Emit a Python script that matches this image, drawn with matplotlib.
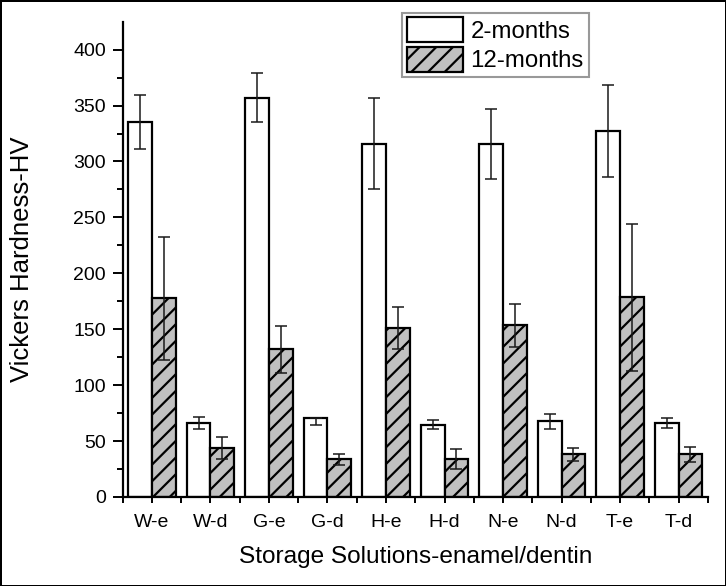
import matplotlib
matplotlib.use("Agg")
import matplotlib.pyplot as plt
import numpy as np

categories = ["W-e", "W-d", "G-e", "G-d", "H-e", "H-d", "N-e", "N-d", "T-e", "T-d"]
series_names = ["2-months", "12-months"]
two_months = [335, 66.5, 357, 70.5, 316, 64.5, 315.5, 67.5, 327.5, 66]
two_months_err_low = [24, 6, 22, 6, 41, 4, 31, 7, 41, 4.5]
two_months_err_high = [24, 5, 22, 0, 41, 4, 31, 7, 41, 4.5]
twelve_months = [177.5, 44, 132, 33.5, 151, 34, 153.5, 38, 178.5, 38]
twelve_months_err = [55, 10, 21, 5, 19, 9, 19, 6, 66, 7]
yticks = [0, 50, 100, 150, 200, 250, 300, 350, 400]

plt.rcParams['font.family'] = ['Liberation Sans', 'DejaVu Sans']
plt.rcParams['hatch.linewidth'] = 1.6

fig = plt.figure(figsize=(7.26, 5.86), dpi=100, edgecolor='black', linewidth=2)
ax = fig.add_axes([0.169, 0.152, 0.806, 0.811])

x = np.arange(1, len(categories) + 1)
w = 0.405

b1 = ax.bar(x - w / 2, two_months, width=w, color='white', edgecolor='black',
            linewidth=1.6, label=series_names[0], zorder=2)
b2 = ax.bar(x + w / 2, twelve_months, width=w, color='#c0c0c0', edgecolor='black',
            linewidth=1.6, hatch='//', label=series_names[1], zorder=2)

ax.errorbar(x - w / 2, two_months, yerr=[two_months_err_low, two_months_err_high],
            fmt='none', ecolor='#1a1a1a', elinewidth=1.1, capsize=4.5, capthick=1.1, zorder=3)
ax.errorbar(x + w / 2, twelve_months, yerr=twelve_months_err,
            fmt='none', ecolor='#1a1a1a', elinewidth=1.1, capsize=4.5, capthick=1.1, zorder=3)

ax.set_xlim(0.515, 10.4)
ax.set_ylim(0, 425)
ax.set_yticks(yticks)
ax.set_yticks(np.arange(25, 425, 50), minor=True)
ax.set_xticks(x)
ax.set_xticklabels(categories)
ax.set_xticks(np.arange(0.5, 10.6, 1.0), minor=True)

for s in ['top', 'right']:
    ax.spines[s].set_visible(False)
for s in ['left', 'bottom']:
    ax.spines[s].set_linewidth(1.6)

ax.tick_params(axis='y', which='major', direction='out', length=7.5, width=1.4, labelsize=14, pad=4.5)
ax.tick_params(axis='y', which='minor', direction='out', length=4, width=1.4)
ax.tick_params(axis='x', which='major', direction='out', length=4, width=1.4, labelsize=14, pad=8)
ax.tick_params(axis='x', which='minor', direction='out', length=4, width=1.4)

ax.set_ylabel("Vickers Hardness-HV", fontsize=18.5)
ax.yaxis.set_label_coords(-0.152, 0.5)
ax.set_xlabel("Storage Solutions-enamel/dentin", fontsize=17.6, labelpad=11)

leg = fig.legend(handles=[b1, b2], labels=series_names, loc='upper left',
                 bbox_to_anchor=(402 / 726, 1 - 12.5 / 586), fontsize=17.3,
                 frameon=True, fancybox=False, edgecolor='#808080',
                 handlelength=2.35, handleheight=1.2, labelspacing=0.18,
                 handletextpad=0.3, borderpad=0.2, borderaxespad=0)
leg.get_frame().set_linewidth(1.5)

fig.savefig("out.png", dpi=100, edgecolor=fig.get_edgecolor())
